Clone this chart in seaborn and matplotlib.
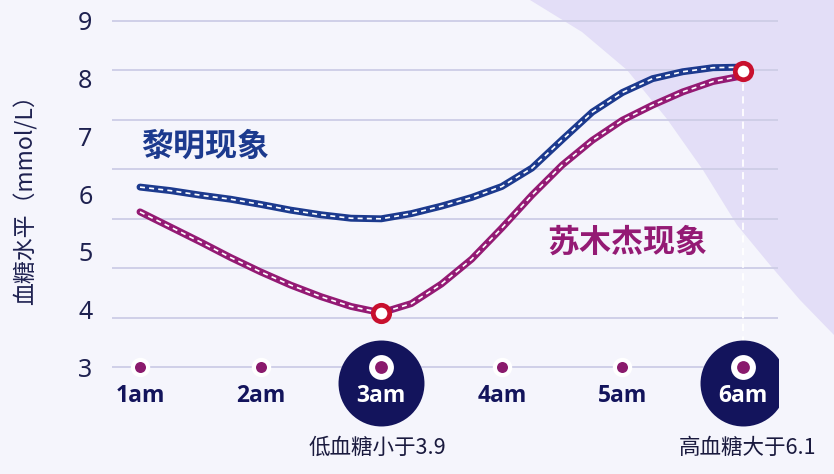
import numpy as np
import matplotlib
matplotlib.use("Agg")
import matplotlib.pyplot as plt
from matplotlib.patches import Polygon
import seaborn as sns

# readings every quarter hour
hours = [1.0, 1.25, 1.5, 1.75, 2.0, 2.25, 2.5, 2.75, 3.0, 3.25, 3.5,
         3.75, 4.0, 4.25, 4.5, 4.75, 5.0, 5.25, 5.5, 5.75, 6.0]
dawn = [6.12, 6.06, 5.98, 5.91, 5.82, 5.72, 5.64, 5.58, 5.57, 5.66, 5.79,
        5.94, 6.13, 6.45, 6.94, 7.42, 7.76, 8.00, 8.12, 8.19, 8.20]
somogyi = [5.69, 5.43, 5.17, 4.90, 4.65, 4.42, 4.22, 4.05, 3.94, 4.10, 4.44,
           4.87, 5.41, 5.98, 6.50, 6.93, 7.28, 7.54, 7.77, 7.95, 8.05]

tick_hours = [1, 2, 3, 4, 5, 6]
tick_labels = ["1am", "2am", "3am", "4am", "5am", "6am"]
y_ticks = [3, 4, 5, 6, 7, 8, 9]

highlight_hours = [3, 6]
highlight_values = [3.94, 8.14]
highlight_notes = ["低血糖小于3.9", "高血糖大于6.1"]

BLUE = "#1c3a8e"
MAGENTA = "#941a74"
NAVY = "#13145c"
RED = "#c8102e"
INK = "#1e2150"

sns.set_theme(style="white")
plt.rcParams["font.family"] = ["Noto Sans CJK SC", "DejaVu Sans"]
plt.rcParams["axes.unicode_minus"] = False

fig = plt.figure(figsize=(8.34, 4.74), dpi=100, facecolor="#f5f5fc")

# soft lavender shape in the top right corner
W, H = 834, 474
corner = [(530, 0), (582, 32), (627, 70), (667, 119), (703, 170), (737, 225),
          (770, 265), (800, 300), (834, 335), (834, 0)]
fig.patches.append(Polygon([(x / W, 1 - y / H) for x, y in corner], closed=True,
                           transform=fig.transFigure, facecolor="#e3def7",
                           edgecolor="none", zorder=-1))

ax = fig.add_axes([112 / W, 0, 666 / W, 1])
ax.set_zorder(1)
ax.set_facecolor("none")
ax.set_xlim(1 - 28 / 120.6, 6 + 35 / 120.6)
ax.set_ylim(1.145, 9.364)

# grid lines (the picture uses 8 evenly spaced lines)
for g in np.linspace(3, 9, 8):
    ax.axhline(g, color="#cdcde6", lw=1.3, zorder=1)

# dashed guide from the 6am peak down to the time badge
ax.plot([highlight_hours[1]] * 2, [highlight_values[1], 2.72], color="white",
        lw=1.3, ls=(0, (4, 3)), zorder=2)

# curves: thick coloured line with a white dashed centre
for vals, col in [(dawn, BLUE), (somogyi, MAGENTA)]:
    sns.lineplot(x=hours, y=vals, color=col, lw=5, ax=ax, sort=False,
                 solid_capstyle="round", solid_joinstyle="round", zorder=3)
    ax.plot(hours, vals, color="white", lw=1.2, ls=(0, (3, 2.5)), zorder=4)

ax.scatter(highlight_hours, highlight_values, s=140, facecolor="white",
           edgecolor=RED, linewidths=3.4, zorder=6)

# time axis: small dots and big badges for the highlighted hours
plain = [h for h in tick_hours if h not in highlight_hours]
ax.scatter(plain, [3] * len(plain), s=120, color="#8a1a6c", edgecolor="white",
           linewidths=3, zorder=5)
ax.scatter(highlight_hours, [2.72] * 2, s=3830, color=NAVY, linewidths=0, zorder=5)
ax.scatter(highlight_hours, [3] * 2, s=320, color="white", linewidths=0, zorder=6)
ax.scatter(highlight_hours, [3] * 2, s=85, color="#8a1a6c", linewidths=0, zorder=7)

for h, lab in zip(tick_hours, tick_labels):
    ax.text(h, 2.49, lab, ha="center", va="center", fontsize=16.5, fontweight="bold",
            family=["Open Sans", "DejaVu Sans"],
            color="white" if h in highlight_hours else NAVY, zorder=8)

for h, note in zip(highlight_hours, highlight_notes):
    ax.text(h - 0.03 if h == 3 else h + 0.04, 1.60, note, ha="center", va="center",
            fontsize=15.5, fontweight="medium", color="#1a1a3e", zorder=8)

ax.text(1.54, 6.82, "黎明现象", ha="center", va="center", fontsize=23,
        fontweight="bold", color=BLUE, zorder=8)
ax.text(5.04, 5.15, "苏木杰现象", ha="center", va="center", fontsize=23,
        fontweight="bold", color=MAGENTA, zorder=8)

ax.set_xticks([])
ax.set_yticks(y_ticks)
ax.set_yticklabels([str(v) for v in y_ticks], fontsize=18, color=INK,
                   family=["Noto Sans", "DejaVu Sans"])
ax.tick_params(axis="y", length=0, pad=14)
ax.set_ylabel("血糖水平（mmol/L）", fontsize=16.5, fontweight="medium", color=INK)
ax.yaxis.set_label_coords(-0.111, 0.59)
sns.despine(ax=ax, left=True, bottom=True)

fig.savefig("out.png", dpi=100, facecolor=fig.get_facecolor())
